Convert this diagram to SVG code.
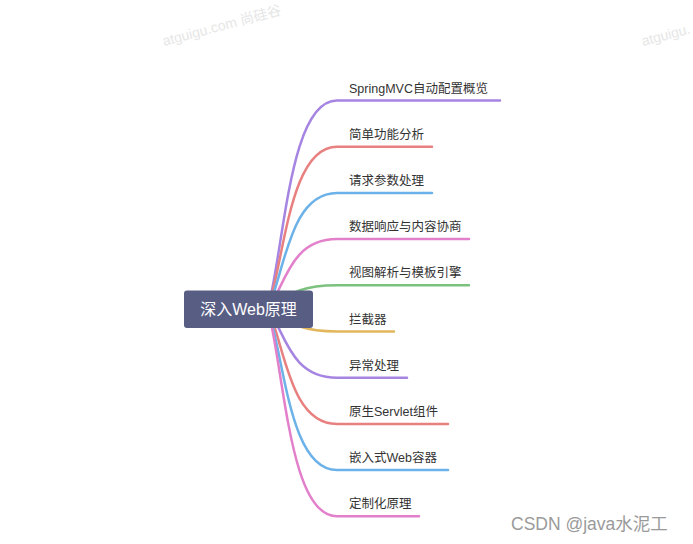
<svg xmlns="http://www.w3.org/2000/svg" width="693" height="544" viewBox="0 0 693 544">
<style>
.wm{font-family:"Liberation Sans","Noto Sans CJK SC",sans-serif;font-size:14px;fill:#e6e6e6}
.lbl{font-family:"Liberation Sans","Noto Sans CJK SC",sans-serif;font-size:12.5px;fill:#333}
.br{fill:none;stroke-width:2.5;stroke-linecap:round}
.root{font-family:"Liberation Sans","Noto Sans CJK SC",sans-serif;font-size:16px;fill:#fff}
.csdn{font-family:"Liberation Sans","Noto Sans CJK SC",sans-serif;font-size:17.5px;fill:#9a9a9a}
</style>
<rect width="693" height="544" fill="#fff"/>
<text class="wm" transform="translate(164,46) rotate(-15)">atguigu.com 尚硅谷</text>
<text class="wm" transform="translate(643,46) rotate(-15)">atguigu.</text>
<g id="connectors">
<path class="br" stroke="#a685e2" d="M268,309 C285,240 290,100.5 337,100.5 L500,100.5"/>
<path class="br" stroke="#e88080" d="M268,309 C285,255 290,146.7 337,146.7 L432,146.7"/>
<path class="br" stroke="#6cb2e8" d="M268,309 C285,270 290,192.9 337,192.9 L432,192.9"/>
<path class="br" stroke="#e380cb" d="M268,309 C285,286 290,239.1 337,239.1 L469,239.1"/>
<path class="br" stroke="#7cc27e" d="M268,309 C285,301 290,285.3 337,285.3 L469,285.3"/>
<path class="br" stroke="#e2b75c" d="M268,309 C285,316 290,331.5 337,331.5 L394,331.5"/>
<path class="br" stroke="#a685e2" d="M268,309 C285,332 290,377.7 337,377.7 L407,377.7"/>
<path class="br" stroke="#e88080" d="M268,309 C285,347 290,423.9 337,423.9 L448,423.9"/>
<path class="br" stroke="#6cb2e8" d="M268,309 C285,363 290,470.1 337,470.1 L448,470.1"/>
<path class="br" stroke="#e380cb" d="M268,309 C285,378 290,516.3 337,516.3 L419,516.3"/>
</g>
<g id="root">
<rect x="184" y="290.5" width="129" height="37.5" rx="3" fill="#585d84"/>
<text class="root" x="248.5" y="315" text-anchor="middle">深入Web原理</text>
</g>
<g id="n1"><text class="lbl" x="349" y="92.5">SpringMVC自动配置概览</text></g>
<g id="n2"><text class="lbl" x="349" y="138.7">简单功能分析</text></g>
<g id="n3"><text class="lbl" x="349" y="184.9">请求参数处理</text></g>
<g id="n4"><text class="lbl" x="349" y="231.1">数据响应与内容协商</text></g>
<g id="n5"><text class="lbl" x="349" y="277.3">视图解析与模板引擎</text></g>
<g id="n6"><text class="lbl" x="349" y="323.5">拦截器</text></g>
<g id="n7"><text class="lbl" x="349" y="369.7">异常处理</text></g>
<g id="n8"><text class="lbl" x="349" y="415.9">原生Servlet组件</text></g>
<g id="n9"><text class="lbl" x="349" y="462.1">嵌入式Web容器</text></g>
<g id="n10"><text class="lbl" x="349" y="508.3">定制化原理</text></g>
<text class="csdn" x="511" y="530">CSDN @java水泥工</text>
</svg>
